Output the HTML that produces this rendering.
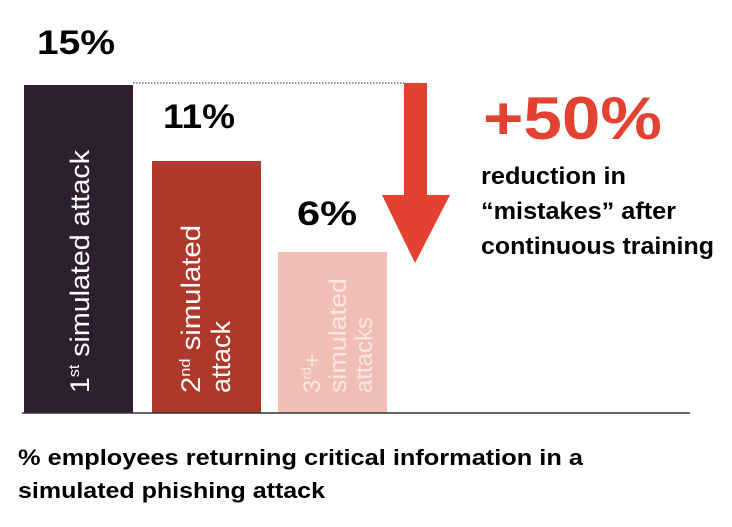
<!DOCTYPE html>
<html><head><style>
body{margin:0;background:#fff;}
svg{display:block;}
text{font-family:"Liberation Sans",sans-serif;}
</style></head><body>
<svg width="732" height="527" viewBox="0 0 732 527">
<rect x="24" y="85" width="109" height="328" fill="#2e1f2f"/>
<rect x="152" y="161" width="109" height="252" fill="#ae3829"/>
<rect x="278" y="252" width="109" height="161" fill="#f0beb5"/>
<line x1="22" y1="413" x2="690" y2="413" stroke="#333" stroke-width="1.5"/>
<line x1="133" y1="83" x2="404" y2="83" stroke="#1a2a5a" stroke-width="1" stroke-dasharray="1.5,1.5"/>
<polygon points="404,83 427,83 427,195 450,195 415,263 382,195 404,195" fill="#e34232"/>
<text x="37" y="54" font-size="34" font-weight="bold" fill="#000" textLength="78" lengthAdjust="spacingAndGlyphs">15%</text>
<text x="163" y="128" font-size="34" font-weight="bold" fill="#000" textLength="72" lengthAdjust="spacingAndGlyphs">11%</text>
<text x="297" y="225" font-size="34" font-weight="bold" fill="#000" textLength="60" lengthAdjust="spacingAndGlyphs">6%</text>
<g fill="#fff" font-size="27">
<text transform="translate(89,393) rotate(-90)" textLength="243" lengthAdjust="spacingAndGlyphs">1<tspan font-size="15" dy="-10">st</tspan><tspan dy="10"> simulated attack</tspan></text>
<text transform="translate(200,393) rotate(-90)" textLength="168" lengthAdjust="spacingAndGlyphs">2<tspan font-size="15" dy="-10">nd</tspan><tspan dy="10"> simulated</tspan></text>
<text transform="translate(230,393) rotate(-90)">attack</text>
</g>
<g fill="#fbe6e2" font-size="24">
<text transform="translate(320,393) rotate(-90)">3<tspan font-size="14" dy="-9">rd</tspan><tspan dy="9">+</tspan></text>
<text transform="translate(346,393) rotate(-90)" textLength="115" lengthAdjust="spacingAndGlyphs">simulated</text>
<text transform="translate(372,393) rotate(-90)">attacks</text>
</g>
<text x="483" y="139" font-size="60" font-weight="bold" fill="#e34232" textLength="179" lengthAdjust="spacingAndGlyphs">+50%</text>
<g font-size="24" font-weight="bold" fill="#000">
<text x="481" y="184" textLength="145" lengthAdjust="spacingAndGlyphs">reduction in</text>
<text x="481" y="219" textLength="195" lengthAdjust="spacingAndGlyphs">“mistakes” after</text>
<text x="481" y="254" textLength="233" lengthAdjust="spacingAndGlyphs">continuous training</text>
</g>
<g font-size="22" font-weight="bold" fill="#000">
<text x="18" y="465" textLength="565" lengthAdjust="spacingAndGlyphs">% employees returning critical  information in a</text>
<text x="18" y="498" textLength="307" lengthAdjust="spacingAndGlyphs">simulated phishing attack</text>
</g>
</svg>
</body></html>
